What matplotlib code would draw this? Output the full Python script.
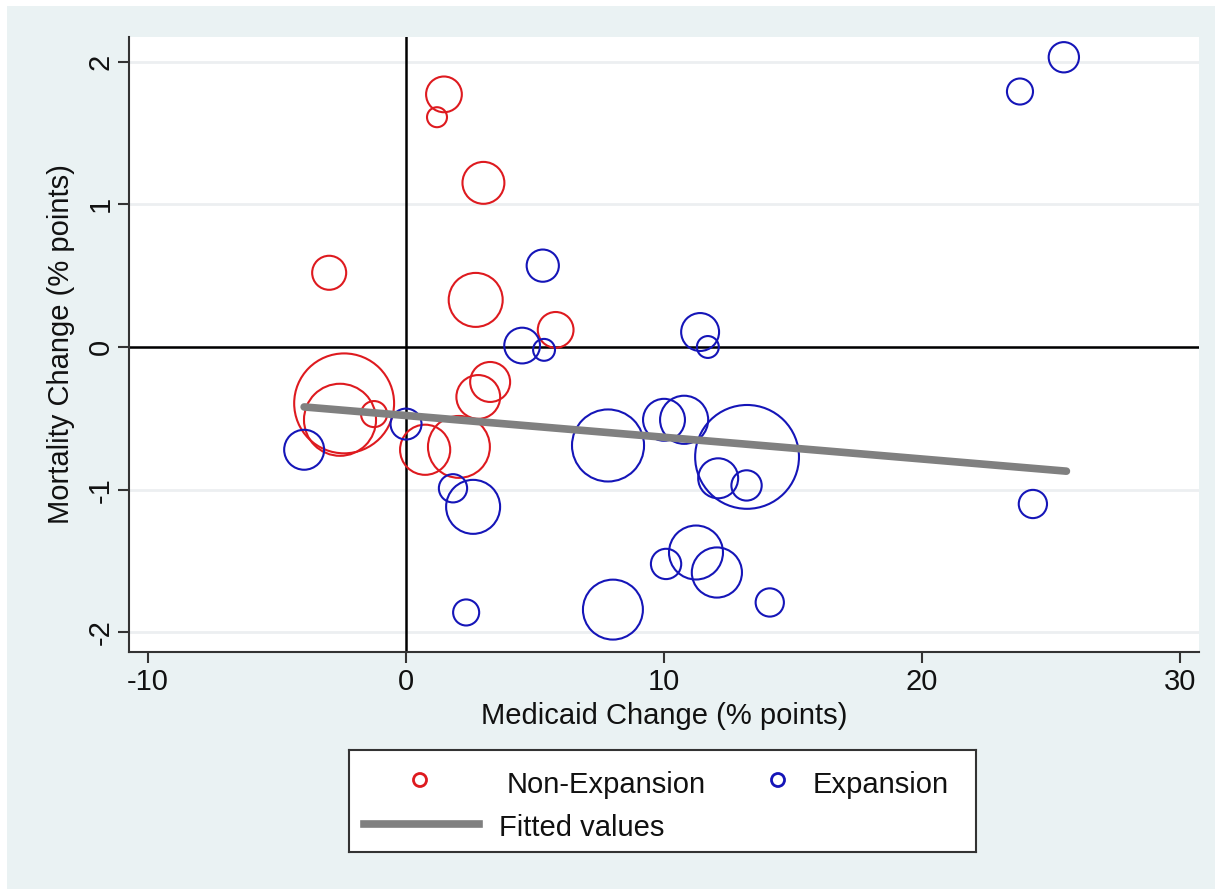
import numpy as np
import matplotlib
matplotlib.use("Agg")
import matplotlib.pyplot as plt
from matplotlib.patches import Rectangle

plt.rcParams["font.family"] = ["Liberation Sans", "DejaVu Sans"]
plt.rcParams["axes.unicode_minus"] = False

# ── Data ─────────────────────────────────────────────────────────────────────
# Non-Expansion states: Medicaid change, mortality change, weight
nonexp_x = [1.47, 1.2, 3.0, -2.98, 2.7, 5.8, -2.40, -2.56, -1.24, 0.74, 2.05, 2.8, 3.26]
nonexp_y = [1.77, 1.61, 1.15, 0.52, 0.33, 0.12, -0.395, -0.51, -0.47, -0.72, -0.70, -0.35, -0.245]
nonexp_w = [3.2, 1.0, 4.4, 2.9, 7.3, 3.2, 25.0, 13.0, 1.7, 6.3, 9.6, 4.8, 4.0]

# Expansion states
exp_x = [25.5, 23.8, 5.3, 4.5, 5.35, 11.4, 11.7, 7.83, 10.0, 10.78, 13.22, 12.1,
         13.2, -3.95, 0.0, 1.82, 2.6, 2.33, 8.02, 10.08, 11.24, 12.05, 14.1, 24.3]
exp_y = [2.03, 1.79, 0.57, 0.01, -0.02, 0.105, 0.0, -0.69, -0.51, -0.51, -0.77, -0.92,
         -0.97, -0.72, -0.54, -0.99, -1.12, -1.86, -1.84, -1.52, -1.44, -1.58, -1.79, -1.10]
exp_w = [2.3, 1.7, 2.6, 3.2, 1.2, 3.6, 1.2, 13.0, 4.4, 5.8, 27.0, 4.0,
         2.3, 4.0, 2.4, 2.0, 7.3, 1.7, 9.0, 2.3, 7.3, 6.3, 2.0, 2.0]

# Fitted values line (end points)
fit_x = [-3.95, 25.6]
fit_y = [-0.42, -0.87]

x_ticks = [-10, 0, 10, 20, 30]
y_ticks = [-2, -1, 0, 1, 2]

# ── Style ─────────────────────────────────────────────────────────────────────
RED = "#DE1A1F"
BLUE = "#1515B8"
GRAY = "#808080"
BG = "#EAF2F3"
INK = "#111111"
FS = 21
W, H = 1215, 889

fig = plt.figure(figsize=(W / 100, H / 100), dpi=100, facecolor="white")
fig.add_artist(Rectangle((7 / W, 0), 1 - 7 / W, 1 - 6 / H, transform=fig.transFigure,
                         facecolor=BG, edgecolor="none", zorder=-5))

ax = fig.add_axes([129 / W, 1 - 652 / H, (1199 - 129) / W, (652 - 37) / H])
ax.set_facecolor("white")
ax.set_xlim(-10.74, 30.74)
ax.set_ylim(-2.137, 2.172)

for s in ["top", "right"]:
    ax.spines[s].set_visible(False)
for s in ["left", "bottom"]:
    ax.spines[s].set_color("#333333")
    ax.spines[s].set_linewidth(1.5)

ax.set_xticks(x_ticks)
ax.set_xticklabels([str(v) for v in x_ticks])
ax.set_yticks(y_ticks)
ax.set_yticklabels([str(v) for v in y_ticks], rotation=90, va="center")
ax.tick_params(axis="both", direction="out", length=8, width=1.5, color="#333333",
               labelsize=FS, labelcolor=INK)
ax.tick_params(axis="x", pad=3.5)
ax.tick_params(axis="y", pad=2.5)

ax.yaxis.grid(True, color="#ECEFF1", linewidth=2, zorder=0)
ax.set_axisbelow(True)

ax.axhline(0, color="black", linewidth=1.8, zorder=1)
ax.axvline(0, color="black", linewidth=1.8, zorder=1)

K = 207  # marker area per unit weight
ax.scatter(nonexp_x, nonexp_y, s=np.array(nonexp_w) * K, facecolors="none",
           edgecolors=RED, linewidths=1.5, zorder=3)
ax.scatter(exp_x, exp_y, s=np.array(exp_w) * K, facecolors="none",
           edgecolors=BLUE, linewidths=1.5, zorder=3)
ax.plot(fit_x, fit_y, color=GRAY, linewidth=5.5, solid_capstyle="round", zorder=4)

ax.set_xlabel("Medicaid Change (% points)", fontsize=FS, color=INK)
ax.xaxis.set_label_coords(0.5, -0.082)
ax.set_ylabel("Mortality Change (% points)", fontsize=FS, color=INK)
ax.yaxis.set_label_coords(-0.0505, 0.5)

# ── Legend box (Stata-like layout, pixel coordinates) ─────────────────────────
lax = fig.add_axes([349 / W, 1 - 852 / H, (976 - 349) / W, (852 - 750) / H])
lax.set_xlim(349, 976)
lax.set_ylim(852, 750)
lax.set_xticks([])
lax.set_yticks([])
lax.set_facecolor("white")
for s in lax.spines.values():
    s.set_color("#333333")
    s.set_linewidth(1.5)

lax.scatter([420], [780], s=88, facecolors="none", edgecolors=RED, linewidths=2)
lax.text(507, 793, "Non-Expansion", fontsize=FS, color=INK, ha="left", va="baseline")
lax.scatter([778], [780], s=88, facecolors="none", edgecolors=BLUE, linewidths=2)
lax.text(813, 793, "Expansion", fontsize=FS, color=INK, ha="left", va="baseline")
lax.plot([364, 479], [824, 824], color=GRAY, linewidth=5.5)
lax.text(499, 836, "Fitted values", fontsize=FS, color=INK, ha="left", va="baseline")

fig.savefig("out.png", dpi=100, facecolor="white")
